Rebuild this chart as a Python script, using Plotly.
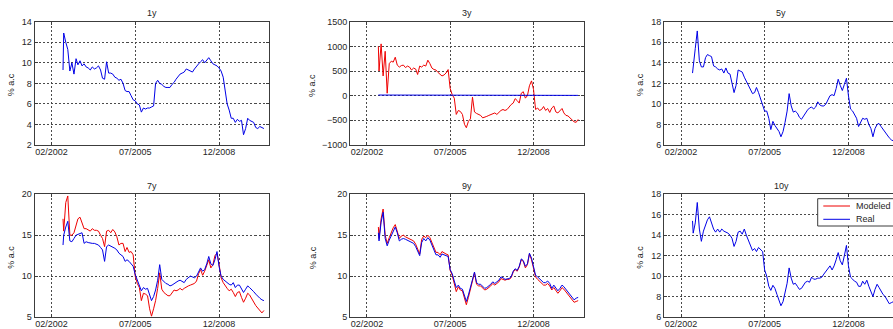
import plotly.graph_objects as go
import pandas as pd

# ---------------- data ----------------
dates = ["2002-07-22"] + [d.strftime("%Y-%m-%d") for d in pd.date_range("2002-08-01", "2010-10-01", freq="MS")]

real_1y = [9.3, 12.9, 12.0, 11.3, 9.2, 10.0, 8.9, 10.4, 9.8, 10.2,
           9.7, 9.9, 9.6, 9.5, 9.3, 9.6, 9.4, 9.5, 9.7, 9.3,
           8.5, 8.4, 10.1, 9.0, 9.0, 8.9, 8.6, 8.5, 8.3, 8.4,
           8.0, 7.3, 7.2, 7.2, 6.8, 6.4, 6.3, 6.0, 5.9, 5.2,
           5.6, 5.5, 5.6, 5.6, 5.7, 5.8, 8.0, 8.3, 8.0, 7.9,
           7.7, 7.6, 7.6, 7.6, 7.9, 8.1, 8.4, 8.7, 8.9, 9.0,
           9.1, 9.4, 9.3, 9.2, 9.1, 9.4, 9.7, 9.9, 10.1, 10.3,
           10.0, 10.3, 10.5, 10.2, 9.9, 9.8, 9.7, 9.5, 9.2, 8.6,
           7.3, 6.0, 5.4, 4.6, 4.6, 4.2, 4.5, 4.3, 4.4, 3.0,
           3.6, 4.6, 4.4, 4.3, 4.2, 3.7, 3.6, 3.8, 3.7, 3.6]

modeled_3y = [1000, 500, 1050, 400, 900, 50, 650, 700, 680, 780,
              620, 580, 610, 620, 570, 600, 580, 520, 560, 540,
              430, 600, 580, 620, 600, 720, 650, 560, 530, 520,
              470, 430, 400, 420, 460, 530, 150, 20, -50, -380,
              -300, -320, -380, -580, -650, -520, -470, -30, -330, -360,
              -380, -400, -450, -440, -420, -400, -380, -360, -350, -380,
              -330, -300, -280, -300, -280, -220, -180, -150, -60, -100,
              -150, 50, 80, -50, 0, 200, 300, 130, -280, -250,
              -300, -280, -220, -300, -260, -340, -250, -210, -330, -350,
              -300, -260, -350, -400, -410, -450, -490, -530, -540, -480]

dates_3y_real = ["2002-07-22", "2003-07-01", "2004-07-01", "2005-07-01", "2006-07-01",
                 "2007-07-01", "2008-07-01", "2009-07-01", "2010-10-01"]
real_3y = [13, 12, 13, 11, 8, 9, 11, 6, 6]

real_5y = [13.0, 13.8, 15.4, 17.1, 14.2, 13.6, 13.6, 14.5, 14.8, 14.7,
           14.6, 13.7, 13.6, 13.4, 13.3, 13.4, 13.0, 13.5, 13.0, 12.9,
           12.1, 11.1, 11.8, 13.3, 13.2, 13.1, 12.6, 12.2, 11.8, 11.4,
           11.0, 11.1, 11.6, 11.1, 10.5, 9.9, 9.3, 9.3, 8.6, 7.5,
           8.3, 7.9, 7.6, 7.3, 6.8, 7.3, 8.2, 9.3, 11.0, 9.8,
           9.2, 9.3, 9.1, 8.7, 8.5, 8.8, 9.2, 9.4, 9.6, 9.7,
           9.5, 9.7, 10.2, 9.9, 9.8, 9.8, 10.0, 10.4, 10.8, 10.9,
           10.8, 11.5, 12.4, 11.8, 11.3, 11.9, 12.5, 10.8, 9.5, 9.3,
           9.0, 8.6, 7.8, 8.2, 8.6, 8.5, 8.6, 8.0, 7.6, 6.8,
           7.6, 8.0, 8.1, 7.8, 7.5, 7.2, 6.9, 6.7, 6.5, 6.4]

modeled_7y = [17.0, 15.5, 19.0, 19.8, 15.0, 15.0, 15.3, 16.3, 17.0, 17.2,
              16.4, 15.8, 15.8, 15.6, 15.5, 15.8, 15.6, 15.6, 15.5, 15.0,
              14.6, 13.6, 15.5, 15.6, 15.3, 15.7, 15.4, 14.8, 13.8, 14.0,
              14.0, 13.0, 13.5, 12.9, 13.0, 12.6, 10.0, 9.1, 8.6, 7.0,
              7.9, 7.8, 7.6, 6.0, 5.1, 6.0, 7.0, 8.5, 10.4, 8.4,
              8.0, 7.8, 7.6, 7.6, 7.9, 8.3, 8.2, 8.3, 8.5, 8.3,
              8.5, 8.7, 8.8, 8.9, 9.0, 9.1, 9.4, 10.3, 10.8, 10.1,
              10.6, 11.4, 12.0, 11.0, 11.4, 12.5, 12.8, 11.5, 9.8, 9.2,
              8.8, 8.5, 8.2, 8.4, 8.0, 7.5, 8.0, 8.1, 7.4, 6.8,
              7.3, 7.9, 7.7, 7.2, 6.7, 6.4, 6.1, 5.8, 5.5, 5.8]

real_7y = [13.8, 15.0, 16.0, 16.7, 14.3, 14.2, 14.6, 15.0, 15.1, 15.2,
           15.3, 14.0, 14.2, 14.1, 14.0, 14.0, 14.0, 13.9, 13.8, 13.5,
           13.2, 11.8, 13.6, 13.8, 13.7, 13.6, 13.4, 13.2, 12.8, 12.6,
           12.4, 11.8, 12.0, 11.8, 11.5, 11.2, 10.2, 9.5, 8.9, 8.2,
           8.6, 8.4, 8.5, 7.6, 7.0, 7.5, 8.3, 9.5, 11.4, 9.6,
           9.3, 9.1, 9.0, 8.8, 8.9, 9.1, 9.3, 9.4, 9.5, 9.3,
           9.2, 9.6, 9.8, 10.0, 9.9, 9.8, 10.0, 10.5, 11.0, 10.6,
           10.8, 11.5, 12.4, 11.5, 11.3, 12.0, 13.0, 11.2, 10.0, 9.6,
           9.4, 9.3, 9.0, 8.9, 9.2, 8.6, 8.9, 8.9, 8.4, 8.0,
           8.4, 8.8, 8.6, 8.4, 8.1, 7.8, 7.5, 7.3, 7.1, 7.0]

modeled_9y = [16.0, 14.6, 17.0, 18.2, 15.0, 14.0, 14.7, 15.4, 15.9, 16.3,
              15.6, 14.6, 14.9, 15.0, 14.8, 14.7, 14.6, 14.5, 14.3, 13.9,
              13.3, 12.7, 14.5, 14.9, 14.7, 15.0, 14.7, 14.1, 13.4, 12.9,
              12.9, 12.6, 13.0, 12.8, 12.7, 12.6, 10.7, 10.1, 9.2, 8.1,
              8.7, 8.3, 8.2, 7.2, 6.5, 7.4, 8.4, 9.4, 10.4, 9.0,
              8.8, 8.8, 8.6, 8.3, 8.4, 8.6, 8.8, 9.1, 8.9, 9.1,
              9.3, 9.7, 9.6, 9.5, 9.6, 9.6, 9.8, 10.5, 10.8, 10.6,
              11.1, 12.0, 11.8, 11.0, 11.4, 12.7, 12.0, 10.9, 9.9, 9.6,
              9.4, 9.2, 8.9, 8.9, 9.1, 8.8, 8.3, 8.6, 8.3, 7.9,
              8.2, 8.6, 8.4, 8.1, 7.8, 7.5, 7.2, 6.8, 6.9, 7.0]

real_9y = [15.3, 14.3, 16.6, 17.8, 14.6, 13.7, 14.4, 15.0, 15.5, 16.0,
           15.3, 14.3, 14.5, 14.6, 14.5, 14.4, 14.3, 14.2, 14.0, 13.6,
           13.0, 12.5, 14.1, 14.6, 14.3, 14.7, 14.4, 13.8, 13.1, 12.6,
           12.6, 12.3, 12.7, 12.6, 12.5, 12.4, 10.8, 10.3, 9.4, 8.6,
           8.9, 8.5, 8.4, 7.5, 6.9, 7.7, 8.6, 9.6, 10.5, 9.2,
           9.0, 9.0, 8.8, 8.5, 8.6, 8.8, 9.0, 9.3, 9.1, 9.3,
           9.5, 9.9, 9.8, 9.6, 9.7, 9.7, 9.9, 10.6, 10.9, 10.7,
           11.2, 12.1, 11.9, 11.2, 11.5, 12.8, 12.2, 11.0, 10.1, 9.9,
           9.7, 9.4, 9.2, 9.2, 9.4, 9.1, 8.5, 8.9, 8.6, 8.2,
           8.5, 8.9, 8.7, 8.4, 8.1, 7.8, 7.5, 7.1, 7.3, 7.4]

real_10y = [15.4, 14.2, 15.2, 17.2, 14.6, 13.4, 14.4, 15.0, 15.5, 15.8,
            15.3, 14.6, 14.3, 14.6, 14.3, 14.6, 14.4, 14.3, 14.2, 14.0,
            13.7, 12.9, 13.4, 14.3, 14.4, 14.1, 14.6, 14.0, 13.5, 12.9,
            12.5, 12.7, 12.4, 12.8, 12.6, 12.4, 10.6, 10.0, 9.0, 8.6,
            9.1, 8.8, 8.2, 7.6, 7.1, 7.5, 8.3, 9.3, 10.8, 9.8,
            9.2, 9.3, 9.0, 8.7, 8.8, 9.1, 9.4, 9.5, 9.4, 9.9,
            9.7, 9.7, 9.8, 9.8, 9.9, 10.2, 10.5, 10.8, 11.0, 10.6,
            11.0, 11.6, 12.3, 11.5, 11.1, 12.0, 13.0, 11.0, 9.9, 9.7,
            9.5, 9.4, 9.0, 9.0, 9.5, 9.2, 9.6, 9.0, 8.4, 8.0,
            8.7, 9.2, 8.9, 8.5, 8.2, 8.0, 7.6, 7.3, 7.4, 7.5]

titles = ["1y", "3y", "5y", "7y", "9y", "10y"]
y_ranges = [(2, 14), (-1000, 1500), (6, 18), (5, 20), (5, 20), (6, 18)]
y_dticks = [2, 500, 2, 5, 5, 2]
tick_dates = ["2002-02-01", "2005-07-01", "2008-12-01"]
tick_labels = ["02/2002", "07/2005", "12/2008"]
y_label = "% a.c"
legend_names = ["Modeled", "Real"]

# ---------------- layout helpers ----------------
W, H = 893, 329
RED = "#ee0000"
BLUE = "#0000e6"
FONT = "Liberation Sans, Arial, sans-serif"
TXT = "#262626"
EDGE = "#3c3c3c"
col_px = [(34.5, 269.3), (350.0, 583.5), (664.0, 893.0)]
row_px = [(21.7, 145.0), (194.3, 317.0)]
x_full = ["2001-05-23", "2010-12-20"]
x_cut = ["2001-05-23", "2010-09-26"]

fig = go.Figure()

panel_traces = [
    [(dates, real_1y, BLUE)],
    [(dates, modeled_3y, RED), (dates_3y_real, real_3y, BLUE)],
    [(dates, real_5y, BLUE)],
    [(dates, modeled_7y, RED), (dates, real_7y, BLUE)],
    [(dates, modeled_9y, RED), (dates, real_9y, BLUE)],
    [(dates, real_10y, BLUE)],
]

annotations = []
shapes = []
for i in range(6):
    r, c = divmod(i, 3)
    n = "" if i == 0 else str(i + 1)
    x0, x1 = col_px[c]
    yt, yb = row_px[r]
    for (xs, ys, col) in panel_traces[i]:
        fig.add_trace(go.Scatter(
            x=xs, y=ys, mode="lines", line=dict(color=col, width=1),
            showlegend=False, xaxis="x" + n, yaxis="y" + n, hoverinfo="skip"))
    common = dict(showgrid=True, gridcolor="#4a4a4a", griddash="2px,2px", gridwidth=1,
                  showline=True, linecolor=EDGE, linewidth=1,
                  ticks="inside", ticklen=3, tickcolor=EDGE,
                  tickfont=dict(family=FONT, size=9, color=TXT), zeroline=False)
    fig.layout["xaxis" + n] = dict(
        common, type="date", domain=[x0 / W, x1 / W], anchor="y" + n,
        range=x_cut if c == 2 else x_full,
        tickmode="array", tickvals=tick_dates, ticktext=tick_labels,
        mirror="ticks", ticklabelstandoff=-2)
    fig.layout["yaxis" + n] = dict(
        common, domain=[1 - yb / H, 1 - yt / H], anchor="x" + n,
        range=list(y_ranges[i]), tick0=y_ranges[i][0], dtick=y_dticks[i],
        mirror=("ticks" if c < 2 else False))
    annotations.append(dict(text=titles[i], xref="paper", yref="paper",
                            x=(x0 + (col_px[c][1] if c < 2 else 898.5)) / 2 / W,
                            y=1 - (yt - 8.5) / H, xanchor="center", yanchor="middle",
                            showarrow=False, font=dict(family=FONT, size=9, color=TXT)))
    ytitle_x = [11.0, 312.7, 640.0][c]
    annotations.append(dict(text=y_label, xref="paper", yref="paper",
                            x=ytitle_x / W, y=1 - ((yt + yb) / 2 + 2) / H,
                            xanchor="center", yanchor="middle", textangle=-90,
                            showarrow=False, font=dict(family=FONT, size=9, color=TXT)))

# legend box in the 10y panel (cut by the right edge like the reference)
lg_x0, lg_x1, lg_y0, lg_y1 = 817.7, 905.0, 198.7, 226.0
shapes.append(dict(type="rect", xref="paper", yref="paper",
                   x0=lg_x0 / W, x1=lg_x1 / W, y0=1 - lg_y1 / H, y1=1 - lg_y0 / H,
                   line=dict(color=EDGE, width=1), fillcolor="white", layer="above"))
for name, col, yy in zip(legend_names, [RED, BLUE], [206.0, 219.3]):
    shapes.append(dict(type="line", xref="paper", yref="paper",
                       x0=823.3 / W, x1=850.0 / W, y0=1 - yy / H, y1=1 - yy / H,
                       line=dict(color=col, width=1), layer="above"))
    annotations.append(dict(text=name, xref="paper", yref="paper",
                            x=854.3 / W, y=1 - yy / H, xanchor="left", yanchor="middle",
                            showarrow=False, font=dict(family=FONT, size=9, color=TXT)))

fig.update_layout(
    width=W, height=H,
    margin=dict(l=0, r=0, t=0, b=0, pad=0, autoexpand=False),
    paper_bgcolor="white", plot_bgcolor="white",
    annotations=annotations, shapes=shapes,
    showlegend=False,
    font=dict(family=FONT, size=9, color=TXT),
)

fig.write_html("out.html", config={"displayModeBar": False},
               post_script="document.body.style.margin='0';document.body.style.padding='0';"
                           "document.body.style.overflow='hidden';")
